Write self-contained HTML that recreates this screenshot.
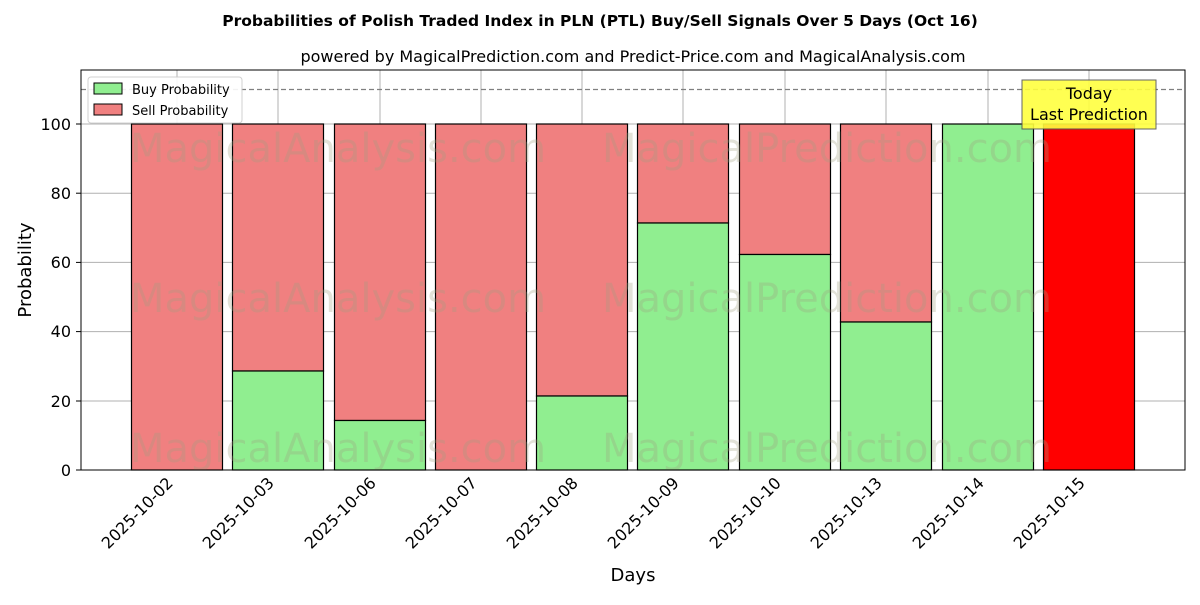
<!DOCTYPE html>
<html><head><meta charset="utf-8"><style>
body{margin:0;background:#fff;}
svg text{font-family:"DejaVu Sans","Liberation Sans",sans-serif;}
</style></head><body>
<svg width="1200" height="600" xmlns="http://www.w3.org/2000/svg">
<rect width="1200" height="600" fill="#fff"/>
<text x="600" y="26" text-anchor="middle" font-size="15.5" font-weight="bold">Probabilities of Polish Traded Index in PLN (PTL) Buy/Sell Signals Over 5 Days (Oct 16)</text>
<text x="633" y="62" text-anchor="middle" font-size="16">powered by MagicalPrediction.com and Predict-Price.com and MagicalAnalysis.com</text>
<g stroke="#b0b0b0" stroke-width="1">
<line x1="81" x2="1185" y1="470" y2="470"/><line x1="81" x2="1185" y1="401" y2="401"/><line x1="81" x2="1185" y1="331.6" y2="331.6"/><line x1="81" x2="1185" y1="262.4" y2="262.4"/><line x1="81" x2="1185" y1="193.2" y2="193.2"/><line x1="81" x2="1185" y1="124" y2="124"/>
<line x1="177" x2="177" y1="70" y2="470"/><line x1="278" x2="278" y1="70" y2="470"/><line x1="380" x2="380" y1="70" y2="470"/><line x1="481" x2="481" y1="70" y2="470"/><line x1="582" x2="582" y1="70" y2="470"/><line x1="683" x2="683" y1="70" y2="470"/><line x1="785" x2="785" y1="70" y2="470"/><line x1="886" x2="886" y1="70" y2="470"/><line x1="988" x2="988" y1="70" y2="470"/><line x1="1089" x2="1089" y1="70" y2="470"/>
</g>
<g stroke="#000" stroke-width="1.2">
<rect x="131.5" y="124" width="91" height="346" fill="#f08080"/>
<rect x="232.5" y="124" width="91" height="247" fill="#f08080"/><rect x="232.5" y="371" width="91" height="99" fill="#90ee90"/>
<rect x="334.5" y="124" width="91" height="296.5" fill="#f08080"/><rect x="334.5" y="420.5" width="91" height="49.5" fill="#90ee90"/>
<rect x="435.5" y="124" width="91" height="346" fill="#f08080"/>
<rect x="536.5" y="124" width="91" height="272" fill="#f08080"/><rect x="536.5" y="396" width="91" height="74" fill="#90ee90"/>
<rect x="637.5" y="124" width="91" height="99" fill="#f08080"/><rect x="637.5" y="223" width="91" height="247" fill="#90ee90"/>
<rect x="739.5" y="124" width="91" height="130.5" fill="#f08080"/><rect x="739.5" y="254.5" width="91" height="215.5" fill="#90ee90"/>
<rect x="840.5" y="124" width="91" height="198" fill="#f08080"/><rect x="840.5" y="322" width="91" height="148" fill="#90ee90"/>
<rect x="942.5" y="124" width="91" height="346" fill="#90ee90"/>
<rect x="1043.5" y="124" width="91" height="346" fill="#ff0000"/>
</g>
<g font-size="40" fill="#a0a080" opacity="0.3">
<text x="130" y="162">MagicalAnalysis.com</text><text x="602" y="162">MagicalPrediction.com</text>
<text x="130" y="312">MagicalAnalysis.com</text><text x="602" y="312">MagicalPrediction.com</text>
<text x="130" y="462">MagicalAnalysis.com</text><text x="602" y="462">MagicalPrediction.com</text>
</g>
<line x1="81" x2="1185" y1="89.5" y2="89.5" stroke="#808080" stroke-width="1.2" stroke-dasharray="5,3"/>
<rect x="1022" y="80" width="134" height="49" fill="#ffff40" stroke="#555" opacity="0.9"/>
<text x="1089" y="99" text-anchor="middle" font-size="16">Today</text>
<text x="1089" y="120" text-anchor="middle" font-size="16">Last Prediction</text>
<rect x="81" y="70" width="1104" height="400" fill="none" stroke="#000" stroke-width="1"/>
<rect x="88" y="77" width="154" height="46" fill="#fff" stroke="#ccc" rx="3" opacity="0.9"/>
<rect x="94" y="83" width="28" height="11" fill="#90ee90" stroke="#000"/>
<rect x="94" y="104" width="28" height="11" fill="#f08080" stroke="#000"/>
<text x="132" y="94" font-size="13">Buy Probability</text>
<text x="132" y="115" font-size="13">Sell Probability</text>
<g font-size="16" text-anchor="end">
<text x="71" y="476">0</text><text x="71" y="407">20</text><text x="71" y="337">40</text><text x="71" y="268">60</text><text x="71" y="199">80</text><text x="71" y="130">100</text>
</g>
<g stroke="#000"><line x1="76" x2="81" y1="470" y2="470"/><line x1="76" x2="81" y1="401" y2="401"/><line x1="76" x2="81" y1="331.6" y2="331.6"/><line x1="76" x2="81" y1="262.4" y2="262.4"/><line x1="76" x2="81" y1="193.2" y2="193.2"/><line x1="76" x2="81" y1="124" y2="124"/></g>
<text transform="translate(31,270) rotate(-90)" text-anchor="middle" font-size="18">Probability</text>
<g font-size="16" text-anchor="end">
<text transform="translate(174,484) rotate(-45)">2025-10-02</text>
<text transform="translate(275,484) rotate(-45)">2025-10-03</text>
<text transform="translate(377,484) rotate(-45)">2025-10-06</text>
<text transform="translate(478,484) rotate(-45)">2025-10-07</text>
<text transform="translate(579,484) rotate(-45)">2025-10-08</text>
<text transform="translate(680,484) rotate(-45)">2025-10-09</text>
<text transform="translate(782,484) rotate(-45)">2025-10-10</text>
<text transform="translate(883,484) rotate(-45)">2025-10-13</text>
<text transform="translate(985,484) rotate(-45)">2025-10-14</text>
<text transform="translate(1086,484) rotate(-45)">2025-10-15</text>
</g>
<text x="633" y="581" text-anchor="middle" font-size="18">Days</text>
</svg>
</body></html>
